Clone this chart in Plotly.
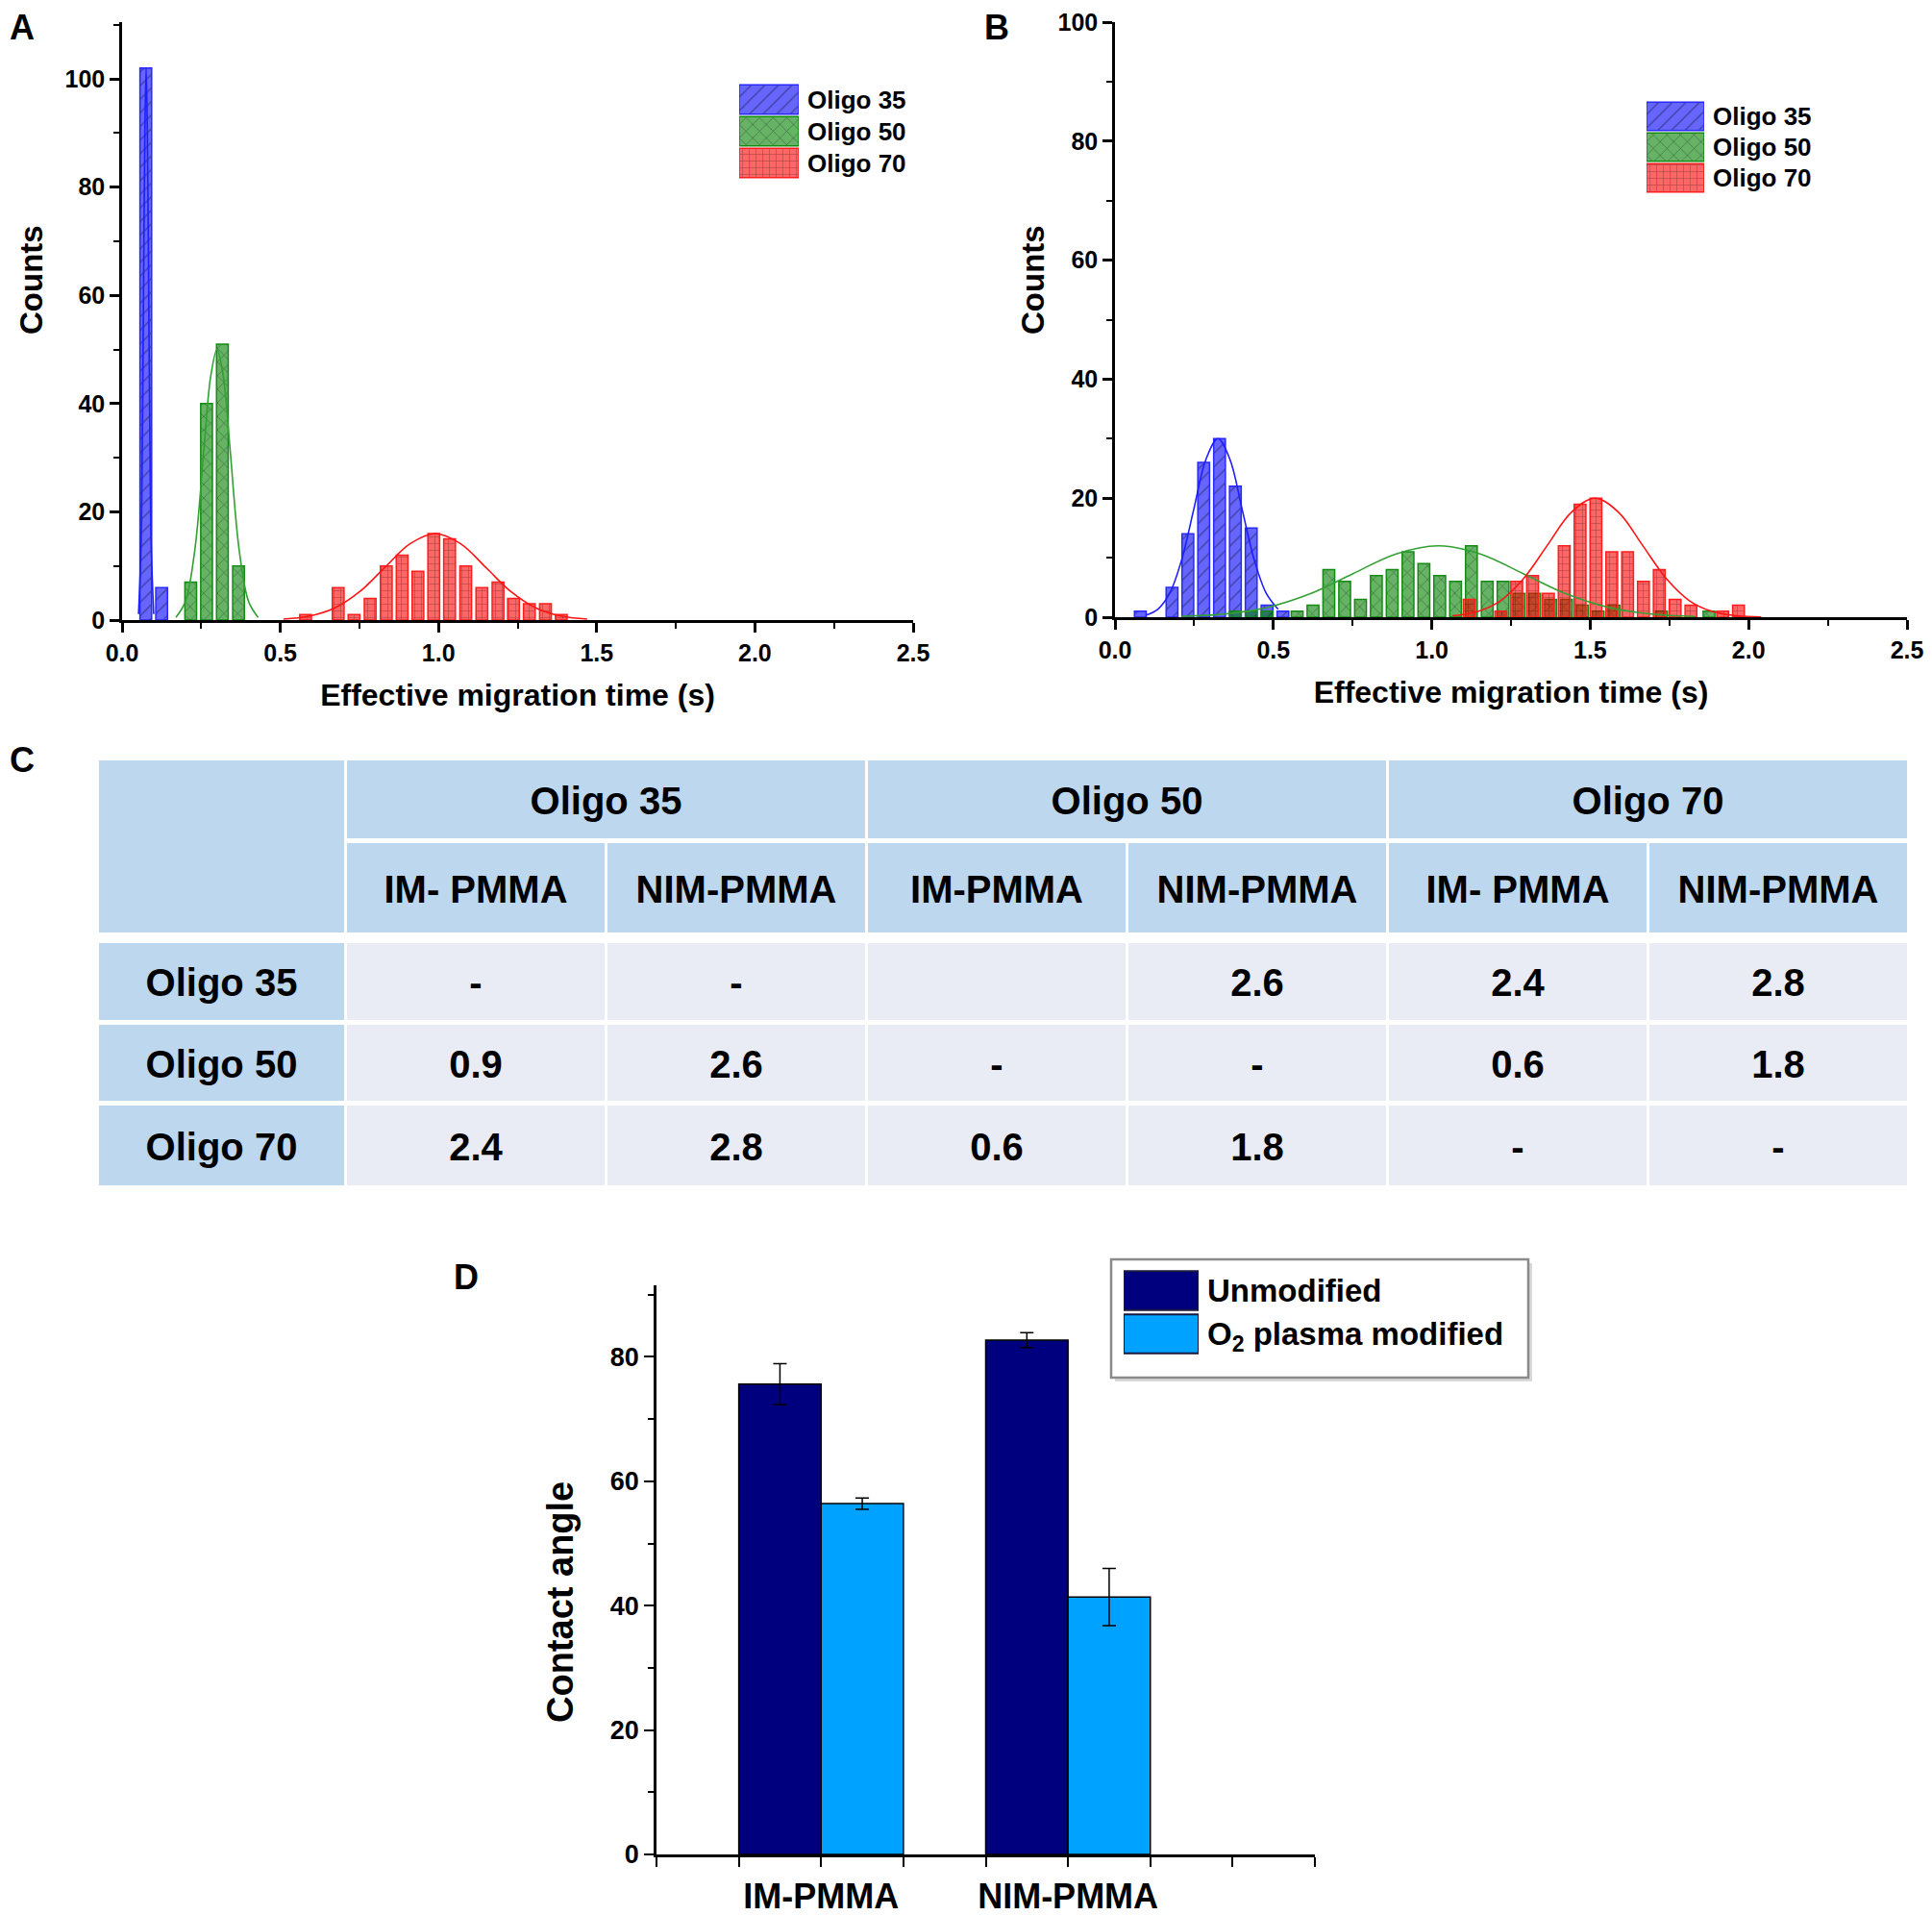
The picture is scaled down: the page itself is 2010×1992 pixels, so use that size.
import plotly.graph_objects as go

# ---------------- DATA ----------------
# Panel A histogram (bin centres, counts)
a35_x = [0.075, 0.125]
a35_y = [102, 6]
a50_x = [0.217, 0.267, 0.317, 0.368]
a50_y = [7, 40, 51, 10]
a70_x = [0.58, 0.683, 0.733, 0.784, 0.835, 0.885, 0.935, 0.985, 1.035, 1.086,
         1.137, 1.188, 1.237, 1.287, 1.338, 1.388]
a70_y = [1, 6, 1, 4, 10, 12, 9, 16, 15, 10, 6, 7, 4, 3, 3, 1]

# Panel A fitted curves
fitA35_x = [0.052, 0.060, 0.064, 0.068, 0.072, 0.076, 0.080, 0.084, 0.088, 0.092, 0.100]
fitA35_y = [1.1, 13.8, 33, 62, 90, 102, 90, 62, 33, 13.8, 1.1]
fitA50_x = [0.17, 0.20, 0.23, 0.26, 0.28, 0.30, 0.32, 0.34, 0.37, 0.40, 0.43]
fitA50_y = [0.5, 3.4, 13, 32.5, 45, 50, 45, 32.5, 13, 3.4, 0.5]
fitA70_x = [0.51, 0.59, 0.67, 0.75, 0.83, 0.91, 0.99, 1.07, 1.15, 1.23, 1.31, 1.39, 1.47]
fitA70_y = [0.18, 0.70, 2.16, 5.2, 9.7, 14.1, 16, 14.1, 9.7, 5.2, 2.16, 0.70, 0.18]

# Panel B histogram
b35_x = [0.08, 0.18, 0.23, 0.28, 0.33, 0.38, 0.43, 0.48, 0.53]
b35_y = [1, 5, 14, 26, 30, 22, 15, 2, 1]
b50_x = [0.38, 0.43, 0.48, 0.575, 0.625, 0.675, 0.725, 0.775, 0.825, 0.875, 0.925,
         0.975, 1.025, 1.075, 1.125, 1.175, 1.225, 1.275, 1.325, 1.375, 1.425,
         1.475, 1.525, 1.575, 1.725, 1.875]
b50_y = [1, 1, 1, 1, 2, 8, 6, 3, 7, 8, 11, 9, 7, 6, 12, 6, 6, 4, 4, 3, 3, 2, 1, 2, 1, 1]
b70_x = [1.118, 1.218, 1.268, 1.318, 1.368, 1.418, 1.468, 1.518, 1.568, 1.618,
         1.668, 1.718, 1.768, 1.818, 1.918, 1.968]
b70_y = [3, 1, 6, 7, 4, 12, 19, 20, 11, 11, 6, 8, 3, 2, 1, 2]

# Panel B fitted curves
fitB35_x = [0.097, 0.135, 0.173, 0.211, 0.249, 0.287, 0.325, 0.363, 0.401, 0.439, 0.477, 0.515]
fitB35_y = [0.33, 1.32, 4.06, 9.74, 18.2, 26.5, 30, 26.5, 18.2, 9.74, 4.06, 1.32]
fitB50_x = [0.21, 0.345, 0.48, 0.615, 0.75, 0.885, 1.02, 1.155, 1.29, 1.425, 1.56, 1.695, 1.83]
fitB50_y = [0.13, 0.53, 1.62, 3.9, 7.28, 10.6, 12, 10.6, 7.28, 3.9, 1.62, 0.53, 0.13]
fitB70_x = [1.065, 1.14, 1.215, 1.29, 1.365, 1.44, 1.515, 1.59, 1.665, 1.74, 1.815, 1.89, 1.965, 2.04]
fitB70_y = [0.22, 0.88, 2.7, 6.5, 12.1, 17.6, 20, 17.6, 12.1, 6.5, 2.7, 0.88, 0.22, 0.04]

series_names = ["Oligo 35", "Oligo 50", "Oligo 70"]

# Panel C table
col_groups = ["Oligo 35", "Oligo 50", "Oligo 70"]
sub_headers = ["IM- PMMA", "NIM-PMMA", "IM-PMMA", "NIM-PMMA", "IM- PMMA", "NIM-PMMA"]
row_labels = ["Oligo 35", "Oligo 50", "Oligo 70"]
cell_values = [
    ["-", "-", "", "2.6", "2.4", "2.8"],
    ["0.9", "2.6", "-", "-", "0.6", "1.8"],
    ["2.4", "2.8", "0.6", "1.8", "-", "-"],
]

# Panel D contact angle
d_categories = ["IM-PMMA", "NIM-PMMA"]
d_unmod = [75.6, 82.7]
d_unmod_err = [3.3, 1.2]
d_o2 = [56.4, 41.4]
d_o2_err = [0.9, 4.6]
d_names = ["Unmodified", "O<sub>2</sub> plasma modified"]

# ---------------- STYLE ----------------
FONT = "Liberation Sans, Arial, sans-serif"
W, H = 2010, 1992
fills = ["rgba(0,0,255,0.6)", "rgba(0,128,0,0.6)", "rgba(255,0,0,0.6)"]
edges = ["rgb(40,40,255)", "rgb(20,140,20)", "rgb(255,30,30)"]
lines = ["rgb(30,30,255)", "rgb(50,160,50)", "rgb(255,20,20)"]
shapes_pat = ["/", "x", "+"]
pat_size = [10, 10, 7]
d_colors = ["#00007F", "#00A2FF"]
BAR_W = 0.037
TEXT_NUDGE = 5  # table text sits slightly below cell centre

fig = go.Figure()


def hist_marker(k):
    return dict(color=fills[k], line=dict(color=edges[k], width=1.5),
                pattern=dict(shape=shapes_pat[k], fillmode="overlay",
                             fgcolor="rgba(0,0,0,0.75)", size=pat_size[k], solidity=0.14))


def add_hist(xs, ys, fxs, fys, xa, ya):
    for k in range(3):
        fig.add_trace(go.Bar(
            x=xs[k], y=ys[k], width=BAR_W, name=series_names[k],
            xaxis=xa, yaxis=ya, showlegend=False, marker=hist_marker(k),
        ))
    for k in range(3):
        fig.add_trace(go.Scatter(
            x=fxs[k], y=fys[k], mode="lines", line=dict(color=lines[k], width=1.6, shape="spline"),
            xaxis=xa, yaxis=ya, showlegend=False, hoverinfo="skip",
        ))


def add_hist_legend(xa, ya):
    for k in range(3):
        fig.add_trace(go.Bar(
            x=[1], y=[series_names[k]], orientation="h", width=0.92, base=0,
            xaxis=xa, yaxis=ya, showlegend=False, hoverinfo="skip", marker=hist_marker(k),
        ))


add_hist([a35_x, a50_x, a70_x], [a35_y, a50_y, a70_y],
         [fitA35_x, fitA50_x, fitA70_x], [fitA35_y, fitA50_y, fitA70_y], "x", "y")
add_hist([b35_x, b50_x, b70_x], [b35_y, b50_y, b70_y],
         [fitB35_x, fitB50_x, fitB70_x], [fitB35_y, fitB50_y, fitB70_y], "x2", "y2")
add_hist_legend("x5", "y5")
add_hist_legend("x6", "y6")

# ---- Panel D bars
group_centres = [2 + 3 * i for i in range(len(d_categories))]
fig.add_trace(go.Bar(
    x=group_centres, y=d_unmod, width=1, offset=-1, name=d_names[0],
    xaxis="x4", yaxis="y4", showlegend=False,
    marker=dict(color=d_colors[0], line=dict(color="black", width=1.5)),
    error_y=dict(type="data", array=d_unmod_err, color="black", thickness=1.5, width=7),
))
fig.add_trace(go.Bar(
    x=group_centres, y=d_o2, width=1, offset=0, name=d_names[1],
    xaxis="x4", yaxis="y4", showlegend=False,
    marker=dict(color=d_colors[1], line=dict(color="black", width=1.5)),
    error_y=dict(type="data", array=d_o2_err, color="black", thickness=1.5, width=7),
))
# D legend swatches
for k in range(2):
    fig.add_trace(go.Bar(
        x=[1], y=[d_names[k]], orientation="h", width=0.9, base=0,
        xaxis="x7", yaxis="y7", showlegend=False, hoverinfo="skip",
        marker=dict(color=d_colors[k], line=dict(color="#1a1a40", width=2)),
    ))

# ---- Panel C table drawn as shapes on its own axes (pixel-like units)
HEAD = "#BDD7EE"
BODY = "#E9EBF5"
col_pitch = [258] + [271] * 6
row_pitch = [86, 104, 85, 84, 87]
row_gap = [5, 11, 5, 5, 4]
COL_GAP = 3
col_edges = [0]
for p in col_pitch:
    col_edges.append(col_edges[-1] + p)
row_edges = [0]
for p in row_pitch:
    row_edges.append(row_edges[-1] + p)

shapes = []
texts_x, texts_y, texts = [], [], []


def cell(x0, x1, y0, y1, color, text):
    shapes.append(dict(type="rect", xref="x3", yref="y3", x0=x0, x1=x1, y0=y0, y1=y1,
                       fillcolor=color, line=dict(width=0), layer="below"))
    if text:
        texts_x.append((x0 + x1) / 2)
        texts_y.append((y0 + y1) / 2 + TEXT_NUDGE)
        texts.append(text)


cell(col_edges[0], col_edges[1] - COL_GAP, row_edges[0], row_edges[2] - row_gap[1], HEAD, "")
for g, name in enumerate(col_groups):
    cell(col_edges[1 + 2 * g], col_edges[3 + 2 * g] - COL_GAP,
         row_edges[0], row_edges[1] - row_gap[0], HEAD, name)
for j, name in enumerate(sub_headers):
    cell(col_edges[1 + j], col_edges[2 + j] - COL_GAP,
         row_edges[1], row_edges[2] - row_gap[1], HEAD, name)
for i, lab in enumerate(row_labels):
    r = 2 + i
    cell(col_edges[0], col_edges[1] - COL_GAP, row_edges[r], row_edges[r + 1] - row_gap[r], HEAD, lab)
    for j, v in enumerate(cell_values[i]):
        cell(col_edges[1 + j], col_edges[2 + j] - COL_GAP,
             row_edges[r], row_edges[r + 1] - row_gap[r], BODY, v)

fig.add_trace(go.Scatter(
    x=texts_x, y=texts_y, text=texts, mode="text", xaxis="x3", yaxis="y3",
    textfont=dict(family=FONT, size=40, color="black", weight="bold"),
    showlegend=False, hoverinfo="skip",
))

# D legend box (with faint shadow)
shapes.append(dict(type="rect", xref="paper", yref="paper",
                   x0=1160 / W, x1=1594 / W, y0=1 - 1437 / H, y1=1 - 1314 / H,
                   fillcolor="#d9d9d9", line=dict(width=0), layer="below"))
shapes.append(dict(type="rect", xref="paper", yref="paper",
                   x0=1156 / W, x1=1590 / W, y0=1 - 1433 / H, y1=1 - 1310 / H,
                   fillcolor="white", line=dict(color="#8a8a8a", width=2.5), layer="below"))

# ---------------- LAYOUT ----------------
tickfont = dict(family=FONT, size=25, color="black", weight="bold")
titlefont = dict(family=FONT, size=32, color="black", weight="bold")


def hist_x(domain, anchor):
    return dict(domain=domain, anchor=anchor, range=[0, 2.5], dtick=0.5, tick0=0,
                tickformat=".1f", showline=True, linecolor="black", linewidth=2.5,
                ticks="outside", ticklen=10, tickwidth=2.5, tickcolor="black",
                minor=dict(dtick=0.25, ticks="outside", ticklen=6, tickwidth=2, tickcolor="black"),
                showgrid=False, zeroline=False, tickfont=tickfont, automargin=False,
                title=dict(text="Effective migration time (s)", font=titlefont, standoff=20))


def hist_y(domain, anchor, rng):
    return dict(domain=domain, anchor=anchor, range=rng, dtick=20, tick0=0,
                showline=True, linecolor="black", linewidth=2.5,
                ticks="outside", ticklen=10, tickwidth=2.5, tickcolor="black",
                minor=dict(dtick=10, ticks="outside", ticklen=6, tickwidth=2, tickcolor="black"),
                showgrid=False, zeroline=False, tickfont=tickfont, automargin=False)


def legend_x(domain, anchor):
    return dict(domain=domain, anchor=anchor, range=[0, 1], visible=False, fixedrange=True)


def legend_y(domain, anchor, cats, size):
    n = len(cats)
    return dict(domain=domain, anchor=anchor, type="category", categoryorder="array",
                categoryarray=cats, range=[n - 0.5, -0.5], side="right",
                showline=False, ticks="", showgrid=False, zeroline=False, fixedrange=True,
                ticklabelstandoff=8, automargin=False,
                tickfont=dict(family=FONT, size=size, color="black", weight="bold"))


annotations = [
    dict(text=t, x=x / W, y=1 - y / H, xref="paper", yref="paper", xanchor="left", yanchor="top",
         showarrow=False, font=dict(family=FONT, size=36, color="black", weight="bold"))
    for t, x, y in [("A", 8, 6), ("B", 1022, 6), ("C", 8, 768), ("D", 470, 1306)]
]
# rotated y-axis titles
for t, x, y, s in [("Counts", 32, 291, 33), ("Counts", 1074, 291, 33), ("Contact angle", 583, 1667, 38)]:
    annotations.append(dict(text=t, x=x / W, y=1 - y / H, xref="paper", yref="paper",
                            xanchor="center", yanchor="middle", textangle=-90, showarrow=False,
                            font=dict(family=FONT, size=s, color="black", weight="bold")))

fig.update_layout(
    width=W, height=H, autosize=False,
    margin=dict(l=0, r=0, t=0, b=0, pad=0, autoexpand=False),
    paper_bgcolor="white", plot_bgcolor="rgba(0,0,0,0)",
    barmode="overlay", showlegend=False,
    font=dict(family=FONT, color="black"),
    xaxis=hist_x([127 / W, 950 / W], "y"),
    yaxis=hist_y([1 - 645 / H, 1 - 23 / H], "x", [0, 110.5]),
    xaxis2=hist_x([1160 / W, 1984 / W], "y2"),
    yaxis2=hist_y([1 - 642 / H, 1 - 23 / H], "x2", [0, 100]),
    xaxis3=dict(domain=[103 / W, (103 + col_edges[-1]) / W], anchor="y3",
                range=[0, col_edges[-1]], visible=False, fixedrange=True),
    yaxis3=dict(domain=[1 - (791 + row_edges[-1]) / H, 1 - 791 / H], anchor="x3",
                range=[row_edges[-1], 0], visible=False, fixedrange=True),
    xaxis4=dict(domain=[683 / W, 1368 / W], anchor="y4", range=[0, 8],
                tickvals=group_centres, ticktext=d_categories,
                showline=True, linecolor="black", linewidth=2.5,
                ticks="outside", ticklen=10, tickwidth=2, tickcolor="black",
                minor=dict(dtick=1, tick0=0, ticks="outside", ticklen=10, tickwidth=2, tickcolor="black"),
                showgrid=False, zeroline=False, automargin=False,
                tickfont=dict(family=FONT, size=36, color="black", weight="bold")),
    yaxis4=dict(domain=[1 - 1929 / H, 1 - 1337 / H], anchor="x4", range=[0, 91.5],
                dtick=20, tick0=0, showline=True, linecolor="black", linewidth=2.5,
                ticks="outside", ticklen=10, tickwidth=2, tickcolor="black",
                minor=dict(dtick=10, ticks="outside", ticklen=6, tickwidth=2, tickcolor="black"),
                showgrid=False, zeroline=False, automargin=False,
                tickfont=dict(family=FONT, size=27, color="black", weight="bold")),
    xaxis5=legend_x([769 / W, 831 / W], "y5"),
    yaxis5=legend_y([1 - 186 / H, 1 - 87 / H], "x5", series_names, 26),
    xaxis6=legend_x([1713 / W, 1773 / W], "y6"),
    yaxis6=legend_y([1 - 201 / H, 1 - 105 / H], "x6", series_names, 26),
    xaxis7=legend_x([1169 / W, 1247 / W], "y7"),
    yaxis7=legend_y([1 - 1410 / H, 1 - 1320 / H], "x7", d_names, 33),
    shapes=shapes,
    annotations=annotations,
)

fig.write_html(
    "out.html",
    config={"displayModeBar": False},
    post_script="document.body.style.margin='0';document.body.style.padding='0';"
                "document.body.style.overflow='hidden';",
)
